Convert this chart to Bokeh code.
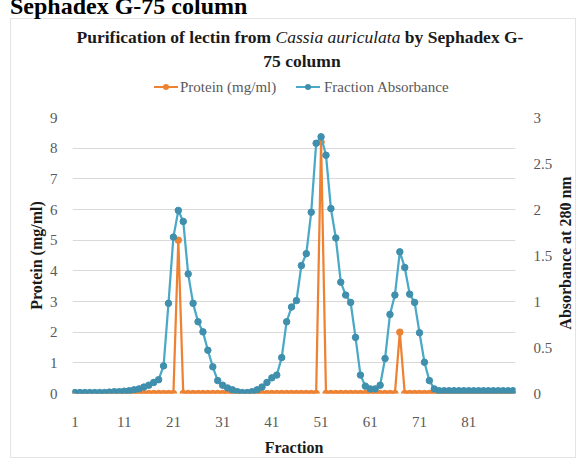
from bokeh.plotting import figure
from bokeh.layouts import column
from bokeh.models import (Range1d, LinearAxis, FixedTicker, Div, CustomJSTickFormatter)
from bokeh.embed import file_html
from bokeh.resources import INLINE

# ---------------- data ----------------
fractions = list(range(1, 91))

protein = [0, 0, 0, 0, 0, 0, 0, 0, 0, 0,
           0, 0, 0, 0, 0, 0, 0, 0, 0, 0,
           0, 5.0, 0, 0, 0, 0, 0, 0, 0, 0,
           0, 0, 0, 0, 0, 0, 0, 0, 0, 0,
           0, 0, 0, 0, 0, 0, 0, 0, 0, 0,
           8.2, 0, 0, 0, 0, 0, 0, 0, 0, 0,
           0, 0, 0, 0, 0, 0, 2.0, 0, 0, 0,
           0, 0, 0, 0, 0, 0, 0, 0, 0, 0,
           0, 0, 0, 0, 0, 0, 0, 0, 0, 0]

absorbance = [0.01, 0.01, 0.01, 0.01, 0.01, 0.01, 0.01, 0.015, 0.02, 0.02,
              0.025, 0.03, 0.04, 0.05, 0.07, 0.09, 0.12, 0.15, 0.30, 0.98,
              1.70, 1.99, 1.87, 1.30, 0.98, 0.78, 0.67, 0.47, 0.29, 0.14,
              0.09, 0.06, 0.04, 0.02, 0.01, 0.01, 0.02, 0.04, 0.07, 0.12,
              0.17, 0.20, 0.39, 0.78, 0.94, 1.01, 1.39, 1.52, 1.97, 2.72,
              2.79, 2.59, 2.01, 1.69, 1.21, 1.07, 0.99, 0.61, 0.20, 0.08,
              0.05, 0.05, 0.09, 0.38, 0.86, 1.07, 1.54, 1.37, 1.08, 0.99,
              0.66, 0.34, 0.14, 0.05, 0.03, 0.03, 0.03, 0.03, 0.03, 0.03,
              0.03, 0.03, 0.03, 0.03, 0.03, 0.03, 0.03, 0.03, 0.03, 0.03]

x_ticks = [1, 11, 21, 31, 41, 51, 61, 71, 81]
left_ticks = [0, 1, 2, 3, 4, 5, 6, 7, 8, 9]
right_ticks = [0, 0.5, 1, 1.5, 2, 2.5, 3]

series_names = ["Protein (mg/ml)", "Fraction Absorbance"]
axis_titles = ["Fraction", "Protein (mg/ml)", "Absorbance at 280 nm"]
chart_title = ["Purification of lectin from ", "Cassia auriculata", " by Sephadex G-", "75 column"]
heading = "Sephadex G-75 column"

# ---------------- style ----------------
ORANGE = "#EE8233"
TEAL = "#4AA9C6"
TEAL_MK = "#3F8FAD"
SERIF = "Liberation Serif"
GRAY = "#595959"
DARK = "#1a1a1a"

W = 581
TOP_H = 105
H = 464 - TOP_H
BL, BR, BT, BB = 72, 66, 12, 71

# ---------------- header overlay (heading, title, legend, right axis title) ----------------
def legend_item(glyph_left, text_left, color, mk_color, label):
    return (
        f'<div style="position:absolute;left:{glyph_left}px;top:86px;width:24px;height:2px;'
        f'background:{color};"></div>'
        f'<div style="position:absolute;left:{glyph_left + 9}px;top:84px;width:6px;height:6px;'
        f'border-radius:50%;background:{mk_color};"></div>'
        f'<div style="position:absolute;left:{text_left}px;top:78px;font-size:15px;line-height:18px;'
        f'color:{GRAY};white-space:nowrap;">{label}</div>'
    )

header_html = (
    f'<div style="position:relative;width:{W}px;height:{TOP_H}px;font-family:\'{SERIF}\',serif;">'
    f'<div style="position:absolute;left:10px;top:18px;width:566px;height:440px;'
    f'border:1px solid #E4E4E4;pointer-events:none;"></div>'
    f'<div style="position:absolute;left:10px;top:-6px;font-size:24px;line-height:24px;'
    f'font-weight:bold;color:#000;white-space:nowrap;">{heading}</div>'
    f'<div style="position:absolute;left:0px;width:600px;top:25px;font-size:17.5px;line-height:24px;'
    f'font-weight:bold;color:{DARK};text-align:center;white-space:nowrap;">'
    f'{chart_title[0]}<i style="font-weight:normal;">{chart_title[1]}</i>{chart_title[2]}</div>'
    f'<div style="position:absolute;left:0px;width:604px;top:49px;font-size:17.5px;line-height:24px;'
    f'font-weight:bold;color:{DARK};text-align:center;white-space:nowrap;">{chart_title[3]}</div>'
    + legend_item(154, 180, ORANGE, ORANGE, series_names[0])
    + legend_item(296, 324, TEAL, TEAL_MK, series_names[1])
    + f'<div style="position:absolute;left:566px;top:253px;transform:translate(-50%,-50%) rotate(-90deg);'
      f'font-size:16px;line-height:18px;font-weight:bold;color:{DARK};white-space:nowrap;">'
      f'{axis_titles[2]}</div>'
    + '</div>'
)
header = Div(text=header_html, width=W, height=TOP_H, margin=0,
             styles={"overflow": "visible", "z-index": "10"})

# ---------------- figure ----------------
p = figure(width=W, height=H, output_backend="svg", toolbar_location=None,
           x_range=Range1d(0.5, 90.5), y_range=Range1d(0, 9),
           min_border_left=BL, min_border_right=BR, min_border_top=BT, min_border_bottom=BB)
p.extra_y_ranges = {"abs": Range1d(0, 3)}
p.outline_line_color = None
p.background_fill_color = "white"
p.border_fill_color = "white"

p.xgrid.visible = False
p.ygrid.ticker = FixedTicker(ticks=left_ticks)
p.ygrid.grid_line_color = "#D9D9D9"
p.ygrid.grid_line_width = 1

ya = p.yaxis[0]
ya.ticker = FixedTicker(ticks=left_ticks)
ya.axis_label = axis_titles[1]
xa = p.xaxis[0]
xa.ticker = FixedTicker(ticks=x_ticks)
xa.axis_label = axis_titles[0]
ra = LinearAxis(y_range_name="abs", ticker=FixedTicker(ticks=right_ticks),
                formatter=CustomJSTickFormatter(code="return String(tick);"))
p.add_layout(ra, "right")

for ax in (ya, xa, ra):
    ax.axis_line_color = None
    ax.major_tick_line_color = None
    ax.minor_tick_line_color = None
    ax.major_label_text_font = SERIF
    ax.major_label_text_font_size = "15px"
    ax.major_label_text_color = GRAY
    ax.axis_label_text_font = SERIF
    ax.axis_label_text_font_style = "bold"
    ax.axis_label_text_font_size = "16px"
    ax.axis_label_text_color = DARK

ya.major_label_standoff = 9
ya.axis_label_standoff = 2
xa.major_label_standoff = 17
xa.axis_label_standoff = 9
ra.major_label_standoff = 12

p.line(fractions, protein, line_color=ORANGE, line_width=2.25)
p.scatter(fractions, protein, size=6.5, fill_color=ORANGE, line_color=ORANGE)
p.line(fractions, absorbance, line_color=TEAL, line_width=2.25, y_range_name="abs")
p.scatter(fractions, absorbance, size=6.5, fill_color=TEAL_MK, line_color=TEAL_MK,
          y_range_name="abs")

layout = column(header, p, spacing=0)
open("out.html", "w").write(file_html(layout, INLINE))
